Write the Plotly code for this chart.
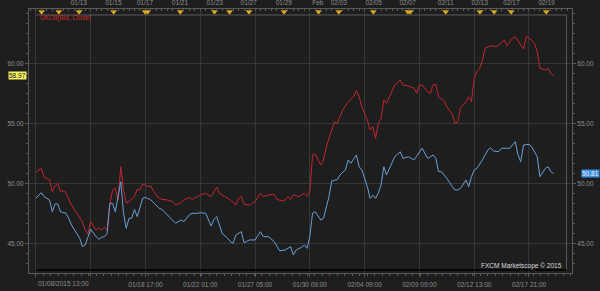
import plotly.graph_objects as go

# ---- data (4-hour bar index, close price) ----
red_bar = [0,2,3,5,6,7,8,9,10,11,12,13,15,17,18,19,20,22,23,24,25,26,27,28,29,30,31,32,33,34,36,37,38,39,41,42,43,45,46,48,50,51,53,54,56,57,59,60,62,64,66,67,69,71,73,74,75,76,78,80,82,83,85,87,88,90,91,92,93,94,96,97,98,99,100,101,102,103,104,105,106,107,108,109,110,112,114,116,117,118,119,121,122,123,124,125,126,127,128,129,131,133,134,136,138,139,140,141,143,144,145,146,147,149,150,152,153,154,155,157,158,159,160,161,162,163,164,166,168,169,171,172,174,175,177,178,179,180,182,183,184,186,187,188,189]
red_close = [50.94,51.25,50.53,50.28,49.30,49.78,50.00,49.30,49.38,49.22,48.65,48.19,47.50,46.80,46.11,45.78,46.80,46.11,46.28,46.11,46.33,46.11,48.19,49.44,49.58,48.61,51.38,49.44,48.36,48.47,48.89,49.50,49.44,49.94,49.72,49.78,49.30,48.75,48.67,48.61,48.47,48.19,48.38,48.61,48.83,48.67,48.89,49.03,49.17,48.89,49.67,49.17,48.89,48.61,48.19,48.75,48.89,48.25,48.19,48.47,49.17,48.89,49.03,49.08,48.67,48.52,48.61,48.89,48.67,49.03,48.89,49.03,49.17,48.89,49.30,52.36,52.44,51.94,51.53,51.94,53.00,53.75,54.44,55.13,55.00,56.11,56.80,57.22,57.72,57.22,56.38,55.28,54.44,54.72,53.75,55.00,55.42,56.94,56.67,57.22,58.19,58.61,58.19,58.11,57.92,57.50,58.19,58.19,57.63,57.50,58.19,58.25,57.22,56.86,56.38,55.75,55.00,55.13,56.30,56.80,57.22,56.80,58.75,59.30,59.58,60.28,61.25,61.47,61.38,61.53,61.94,61.47,62.08,62.22,61.53,61.19,62.22,62.13,61.67,60.97,59.58,59.44,59.58,59.17,58.97]

blue_bar = [0,1,2,3,5,6,7,8,9,11,12,13,15,16,17,18,19,20,22,23,24,25,26,27,28,29,31,32,33,34,35,36,37,39,40,42,43,45,46,48,50,51,53,54,56,57,59,60,62,64,65,66,67,68,70,71,72,73,75,76,78,80,82,83,85,87,89,91,93,94,95,97,98,99,100,101,102,104,105,107,108,110,111,113,114,115,117,118,119,121,122,123,124,125,126,127,128,129,131,133,134,136,138,141,142,143,144,145,146,147,148,149,150,152,153,154,155,157,158,159,160,161,163,165,166,167,169,170,173,175,176,177,178,180,181,183,184,186,187,188,189]
blue_close = [48.75,49.03,49.22,48.89,48.61,47.63,48.28,48.28,47.63,47.50,47.08,46.53,45.83,45.42,44.72,44.86,45.50,46.17,45.55,45.33,45.50,45.55,45.83,48.33,48.33,47.63,50.13,47.50,46.25,47.08,47.10,47.83,47.22,48.75,48.83,48.61,48.38,47.92,47.83,47.36,46.94,46.67,46.94,46.80,47.36,47.50,47.50,47.55,47.50,46.44,47.00,47.22,46.53,45.83,45.42,45.14,45.00,45.69,45.97,45.05,45.28,45.28,45.97,45.55,45.55,45.14,44.38,44.44,44.72,44.03,44.44,44.67,44.86,44.58,45.55,47.50,47.63,46.94,47.08,48.89,50.20,50.30,50.70,51.11,51.94,51.67,52.36,51.38,51.11,49.72,48.75,49.00,48.75,49.17,49.86,51.38,50.69,51.25,52.22,52.63,52.08,52.22,51.94,52.92,52.50,52.08,52.22,52.36,52.08,50.97,50.97,50.69,50.42,49.72,49.44,49.44,49.58,50.28,49.72,50.55,51.11,51.25,51.94,52.78,52.97,52.69,52.64,52.92,52.92,53.47,52.36,51.80,53.19,53.25,53.05,52.22,50.55,51.25,51.38,50.97,50.81]

bottom_tick_bars = [0, 20, 40, 60, 80, 100, 120, 140, 160, 180]
bottom_tick_text = ["", "", "01/18 17:00", "01/22 01:00", "01/27 05:00", "01/30 09:00",
                    "02/04 09:00", "02/09 09:00", "02/12 13:00", "02/17 21:00"]
first_label = "01/08/2015 13:00"

top_tick_bars = [15.7, 28.3, 39.8, 52.6, 65.3, 77.7, 90.5, 102.9, 110.6, 123.3, 135.7, 149.6, 162.0, 173.6, 186.4]
top_tick_text = ["01/13", "01/15", "01/17", "01/21", "01/23", "01/27", "01/29", "Feb",
                 "02/03", "02/05", "02/07", "02/11", "02/13", "02/17", "02/19"]

event_bars = [2.1, 8.4, 15.8, 28.4, 39.9, 40.8, 52.7, 65.2, 70.7, 77.8, 90.6, 103.2, 110.6,
              123.2, 135.8, 136.7, 149.6, 162.1, 167.3, 173.5, 186.3]

price_ticks = [45, 50, 55, 60]
price_tick_text = ["45.00", "50.00", "55.00", "60.00"]

# ---- style ----
BG = "#1e1e1e"
GRID = "#363636"
AXIS = "#5a5a5a"
LABEL = "#8e8e8e"
RED = "#c4262e"
BLUE = "#6aa0d6"
FONT = "Liberation Sans"
FS = 6.5

XR = [-2.5, 195.7]
YR = [42.525, 64.525]
EVENT_Y = 64.3

fig = go.Figure()
fig.add_trace(go.Scatter(x=red_bar, y=red_close, mode="lines",
                         line=dict(color=RED, width=1), xaxis="x", yaxis="y"))
fig.add_trace(go.Scatter(x=blue_bar, y=blue_close, mode="lines",
                         line=dict(color=BLUE, width=1), xaxis="x", yaxis="y2"))
fig.add_trace(go.Scatter(x=event_bars, y=[EVENT_Y] * len(event_bars), mode="markers",
                         marker=dict(symbol="triangle-down", size=6, color="#dcaa1c",
                                     line=dict(width=0)),
                         xaxis="x", yaxis="y"))
# invisible trace to activate top axis
fig.add_trace(go.Scatter(x=[XR[0]], y=[YR[0]], mode="markers", marker=dict(opacity=0),
                         xaxis="x2", yaxis="y", hoverinfo="skip"))

fig.update_layout(
    width=600, height=291,
    margin=dict(l=29, r=28, t=9, b=18, pad=0),
    paper_bgcolor=BG, plot_bgcolor=BG,
    showlegend=False,
    font=dict(family=FONT, size=FS, color=LABEL),
    xaxis=dict(range=XR, tickmode="array", tickvals=bottom_tick_bars, ticktext=bottom_tick_text,
               automargin=False,
               showgrid=True, gridcolor=GRID, gridwidth=1, zeroline=False,
               showline=True, linecolor=AXIS, linewidth=1,
               ticks="outside", ticklen=3, tickcolor=AXIS, ticklabelstandoff=2,
               minor=dict(ticks="outside", ticklen=2, tickcolor=AXIS, tick0=0, dtick=2.75,
                          showgrid=False),
               tickfont=dict(family=FONT, size=FS, color=LABEL)),
    xaxis2=dict(range=XR, overlaying="x", side="top", tickmode="array",
                tickvals=top_tick_bars, ticktext=top_tick_text, automargin=False,
                showgrid=False, zeroline=False, showline=True, linecolor=AXIS, linewidth=1,
                ticks="", ticklabelstandoff=0,
                minor=dict(ticks="inside", ticklen=2, tickcolor=AXIS, tick0=0, dtick=2,
                           showgrid=False),
                tickfont=dict(family=FONT, size=FS, color=LABEL)),
    yaxis=dict(range=YR, tickmode="array", tickvals=price_ticks, ticktext=price_tick_text,
               automargin=False,
               showgrid=True, gridcolor=GRID, gridwidth=1, zeroline=False,
               showline=True, linecolor=AXIS, linewidth=1,
               ticks="outside", ticklen=3, tickcolor=AXIS, ticklabelstandoff=0,
               minor=dict(ticks="outside", ticklen=2, tickcolor=AXIS, tick0=45, dtick=5 / 6,
                          showgrid=False),
               tickfont=dict(family=FONT, size=FS, color=LABEL)),
    yaxis2=dict(range=YR, overlaying="y", side="right", tickmode="array",
                tickvals=price_ticks, ticktext=price_tick_text, automargin=False,
                showgrid=False, zeroline=False, showline=True, linecolor=AXIS, linewidth=1,
                ticks="outside", ticklen=3, tickcolor=AXIS, ticklabelstandoff=0,
                minor=dict(ticks="outside", ticklen=2, tickcolor=AXIS, tick0=45, dtick=5 / 6,
                           showgrid=False),
                tickfont=dict(family=FONT, size=FS, color=LABEL)),
)

# inner frame
fig.add_shape(type="line", xref="x", yref="paper", x0=0, x1=193.7, y0=0.9773, y1=0.9773,
              line=dict(color=AXIS, width=1))
fig.add_shape(type="line", xref="x", yref="paper", x0=193.7, x1=193.7, y0=0.011, y1=0.9773,
              line=dict(color=AXIS, width=1))
fig.add_shape(type="line", xref="x", yref="paper", x0=0, x1=193.7, y0=0.011, y1=0.011,
              line=dict(color="#000000", width=1.5))

fig.add_annotation(text=first_label, xref="x", yref="paper", x=0, y=0, xanchor="left",
                   yanchor="top", yshift=-5, showarrow=False,
                   font=dict(family=FONT, size=FS, color=LABEL))
fig.add_annotation(text="UKOil(Bid, Close)", xref="paper", yref="paper", x=0.0166, y=0.966,
                   xanchor="left", yanchor="middle", showarrow=False,
                   font=dict(family=FONT, size=FS, color="#d02a2a"))
fig.add_annotation(text="FXCM Marketscope © 2015", xref="paper", yref="paper", x=0.986, y=0.0265,
                   xanchor="right", yanchor="middle", showarrow=False,
                   font=dict(family=FONT, size=FS, color="#d8d8d8"))
fig.add_annotation(text=f"{red_close[-1]:.2f}", xref="paper", yref="y", x=0, y=red_close[-1],
                   xanchor="right", yanchor="middle", xshift=-2, showarrow=False,
                   bgcolor="#f4f060", borderpad=0,
                   font=dict(family=FONT, size=FS, color="#202020"))
fig.add_annotation(text=f"{blue_close[-1]:.2f}", xref="paper", yref="y", x=1, y=blue_close[-1],
                   xanchor="left", yanchor="middle", xshift=9, showarrow=False,
                   bgcolor="#3d8de0", borderpad=0,
                   font=dict(family=FONT, size=FS, color="#e8f0ff"))

fig.write_html("out.html")
